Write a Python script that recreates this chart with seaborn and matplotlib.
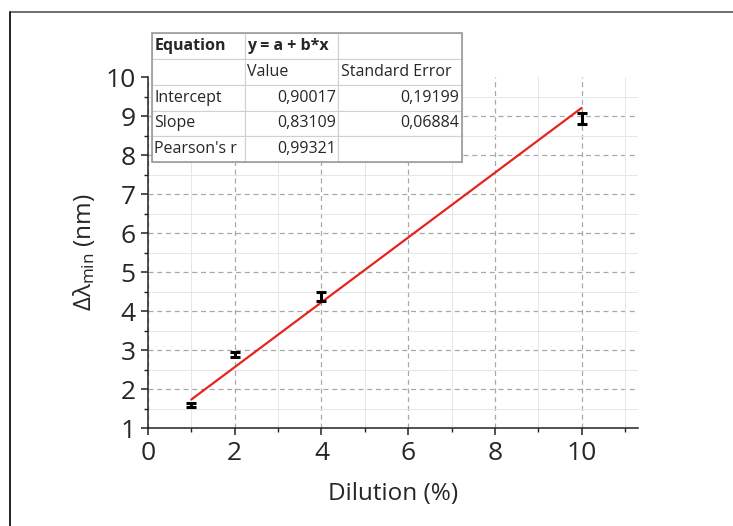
import numpy as np
import pandas as pd
import seaborn as sns
import matplotlib.pyplot as plt
from matplotlib.ticker import MultipleLocator
from matplotlib.lines import Line2D

dilution = [1, 2, 4, 10]
delta_lambda = [1.60, 2.88, 4.38, 8.95]
delta_err = [0.05, 0.07, 0.11, 0.14]

# linear fit results
intercept = 0.90017
slope = 0.83109
intercept_err = 0.19199
slope_err = 0.06884
pearson_r = 0.99321

sns.set_style("white")
plt.rcParams['font.family'] = ['Open Sans', 'DejaVu Sans']
plt.rcParams['mathtext.fontset'] = 'custom'
plt.rcParams['mathtext.rm'] = 'Open Sans'

fig = plt.figure(figsize=(7.33, 5.26), dpi=100)
ax = fig.add_axes([0.2019, 0.1863, 0.6685, 0.667])

# fitted line over the data range
fit = pd.DataFrame({'x': [min(dilution), max(dilution)]})
fit['y'] = intercept + slope * fit['x']
sns.lineplot(data=fit, x='x', y='y', color='#e8231f', linewidth=1.6, ax=ax, zorder=3)

ax.errorbar(dilution, delta_lambda, yerr=delta_err, fmt='none', ecolor='black',
            elinewidth=2.2, capsize=3.5, capthick=2.2, zorder=4)

ax.set_xlim(0, 11.3)
ax.set_ylim(1, 10)
ax.xaxis.set_major_locator(MultipleLocator(2))
ax.xaxis.set_minor_locator(MultipleLocator(1))
ax.yaxis.set_major_locator(MultipleLocator(1))
ax.yaxis.set_minor_locator(MultipleLocator(0.5))

grid_major = dict(linestyle=(0, (4, 3)), color='#a8a8a8', linewidth=0.9)
ax.grid(which='major', axis='x', **grid_major)
ax.grid(which='minor', linestyle='-', color='#e6e6e6', linewidth=0.7)
# horizontal major grid, skipping the axis limits
for t in ax.get_yticks():
    if 1 < t < 10:
        ax.axhline(t, zorder=0.5, **grid_major)
ax.set_axisbelow(True)

for side in ['top', 'right']:
    ax.spines[side].set_visible(False)
for side in ['left', 'bottom']:
    ax.spines[side].set_color('#222222')
    ax.spines[side].set_linewidth(1.1)

ax.tick_params(which='major', direction='out', length=5, width=1.1, labelsize=19,
               left=True, bottom=True, color='#222222', pad=4)
ax.tick_params(which='minor', direction='out', length=3, width=1.0,
               left=True, bottom=True, color='#222222')

ax.set_xlabel('Dilution (%)', fontsize=17.5, labelpad=12)
ax.set_ylabel('$\\mathregular{Δλ_{min}}$ (nm)', fontsize=17.5, labelpad=6)

# fit results table
cells = [
    ['Equation', 'y = a + b*x', ''],
    ['', 'Value', 'Standard Error'],
    ['Intercept', f'{intercept:.5f}'.replace('.', ','), f'{intercept_err:.5f}'.replace('.', ',')],
    ['Slope', f'{slope:.5f}'.replace('.', ','), f'{slope_err:.5f}'.replace('.', ',')],
    ["Pearson's r", f'{pearson_r:.5f}'.replace('.', ','), ''],
]
tb = [0.008, 0.758, 0.633, 0.367]
tab = ax.table(cellText=cells, colWidths=[0.3, 0.3, 0.4], bbox=tb, zorder=6)
tab.auto_set_font_size(False)
for (r, c), cell in tab.get_celld().items():
    cell.set_edgecolor('#d0d0d0')
    cell.set_linewidth(0.8)
    cell.set_facecolor('white')
    txt = cell.get_text()
    txt.set_fontsize(11.5)
    cell.PAD = 0.025
    if r >= 2 and c >= 1:
        cell.set_text_props(ha='right')
    else:
        cell.set_text_props(ha='left')
    if r == 0:
        txt.set_fontweight('bold')

# outer frame of the table
ax.add_patch(plt.Rectangle((tb[0], tb[1]), tb[2], tb[3], transform=ax.transAxes,
                           fill=False, edgecolor='#9a9a9a', linewidth=1.2,
                           zorder=7, clip_on=False))

# frame lines on the top and left edges of the picture
fig.add_artist(Line2D([10 / 733, 1], [1 - 12 / 526, 1 - 12 / 526], color='#555555', linewidth=1.2))
fig.add_artist(Line2D([10 / 733, 10 / 733], [0, 1 - 12 / 526], color='#222222', linewidth=1.4))

fig.savefig('out.png', dpi=100)
